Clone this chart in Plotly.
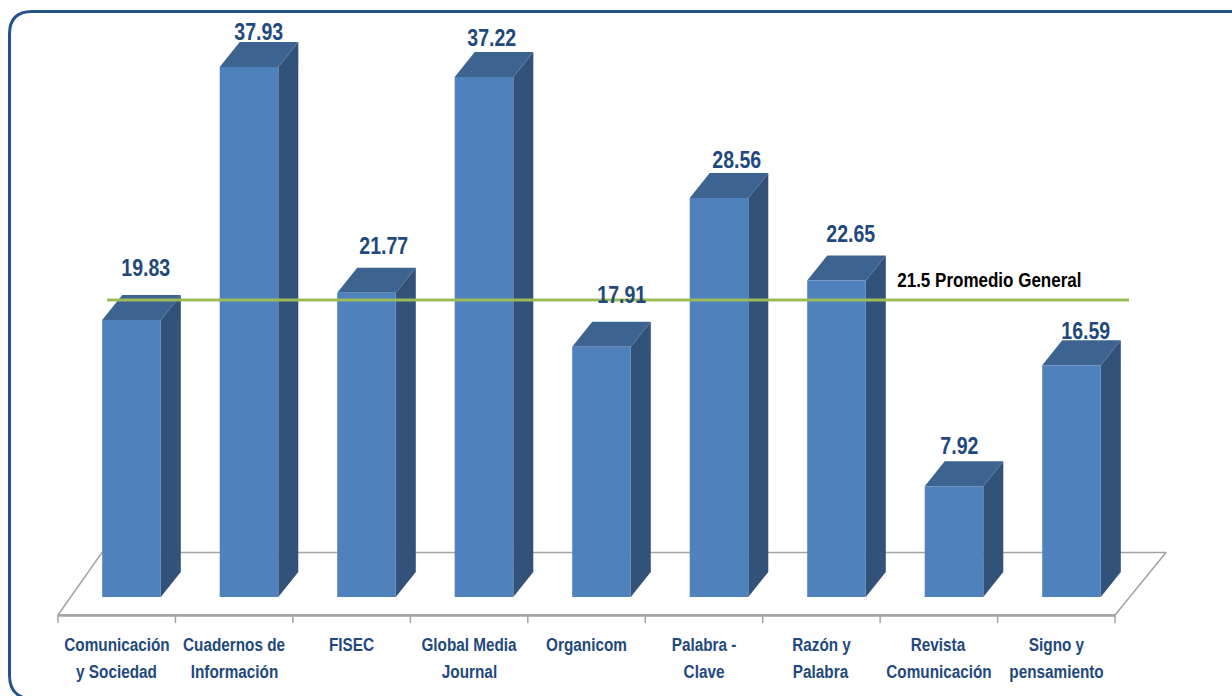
import plotly.graph_objects as go

categorias_l1 = ["Comunicación", "Cuadernos de", "FISEC", "Global Media", "Organicom",
                 "Palabra -", "Razón y", "Revista", "Signo y"]
categorias_l2 = ["y Sociedad", "Información", "", "Journal", "", "Clave", "Palabra",
                 "Comunicación", "pensamiento"]
valores = [19.83, 37.93, 21.77, 37.22, 17.91, 28.56, 22.65, 7.92, 16.59]
etiquetas = ["19.83", "37.93", "21.77", "37.22", "17.91", "28.56", "22.65", "7.92", "16.59"]
promedio_texto = "21.5 Promedio General"
promedio_linea = 21.26

# scale calibration (style / layout, not data)
W, H = 1232, 696
PX_X = 117.5
PX_Y = 13.97
X0 = 131.5
Y0 = 597
HALF = 29.3 / PX_X
DX = 20 / PX_X
DY = 25 / PX_Y
label_dx = [14.5, 10, 17.5, 8, 20.5, 17.5, 14.5, 5, 14.5]
label_dy = [52, 35, 47, 39, 52, 38, 47, 40, 34]

FRONT = "#4F81BD"
TOP = "#3D6491"
SIDE = "#335279"
TEXT = "#1F497D"
GREY = "#A3A3A3"
FONT = "Liberation Sans, Arial, sans-serif"

def xd(px):
    return (px - X0) / PX_X

def yd(px):
    return (Y0 - px) / PX_Y

fig = go.Figure()

# floor of the 3-D chart
fig.add_trace(go.Scatter(
    x=[xd(58), xd(102), xd(1166), xd(1115), xd(58)],
    y=[yd(615), yd(552.5), yd(552.5), yd(615), yd(615)],
    mode="lines", line=dict(color=GREY, width=1.5), hoverinfo="skip", showlegend=False))
fig.add_trace(go.Scatter(
    x=[xd(58), xd(1115)], y=[yd(615.5), yd(615.5)],
    mode="lines", line=dict(color=GREY, width=2.5), hoverinfo="skip", showlegend=False))
for k in range(10):
    xt = xd(58 + k * 117.45)
    fig.add_trace(go.Scatter(
        x=[xt, xt], y=[yd(615), yd(623)],
        mode="lines", line=dict(color=GREY, width=1.5), hoverinfo="skip", showlegend=False))

# bars: side, top, front faces computed from the values
for i, v in enumerate(valores):
    l, r = i - HALF, i + HALF
    fig.add_trace(go.Scatter(
        x=[r, r + DX, r + DX, r, r], y=[0, DY, v + DY, v, 0],
        mode="lines", fill="toself", fillcolor=SIDE, line=dict(width=0, color=SIDE),
        hoverinfo="skip", showlegend=False))
    fig.add_trace(go.Scatter(
        x=[l, l + DX, r + DX, r, l], y=[v, v + DY, v + DY, v, v],
        mode="lines", fill="toself", fillcolor=TOP, line=dict(width=0, color=TOP),
        hoverinfo="skip", showlegend=False))
    fig.add_trace(go.Scatter(
        x=[l, r, r, l, l], y=[0, 0, v, v, 0],
        mode="lines", fill="toself", fillcolor=FRONT, line=dict(width=0, color=FRONT),
        hoverinfo="skip", showlegend=False))

# average line
fig.add_trace(go.Scatter(
    x=[xd(107), xd(1129)], y=[promedio_linea, promedio_linea],
    mode="lines", line=dict(color="#9BBB59", width=3), hoverinfo="skip", showlegend=False))

ann = []
for i, v in enumerate(valores):
    ann.append(dict(x=i, y=v, text=etiquetas[i], xshift=label_dx[i], yshift=label_dy[i],
                    showarrow=False, xanchor="center", yanchor="middle",
                    font=dict(family=FONT, size=23, color=TEXT, weight="bold")))
    xc = xd(116.7 + i * 117.45)
    ann.append(dict(x=xc, y=yd(645), text=categorias_l1[i], showarrow=False,
                    xanchor="center", yanchor="middle",
                    font=dict(family=FONT, size=18, color=TEXT, weight="bold")))
    if categorias_l2[i]:
        ann.append(dict(x=xc, y=yd(672), text=categorias_l2[i], showarrow=False,
                        xanchor="center", yanchor="middle",
                        font=dict(family=FONT, size=18, color=TEXT, weight="bold")))
ann.append(dict(x=xd(989.5), y=yd(280), text=promedio_texto, showarrow=False,
                xanchor="center", yanchor="middle",
                font=dict(family=FONT, size=20, color="#000000", weight="bold")))

# rounded frame that runs off the right and bottom edges
def fx(p):
    return p / W

def fy(p):
    return 1 - p / H

frame = (f"M {fx(1240)} {fy(11.5)} L {fx(32)} {fy(11.5)} "
         f"Q {fx(9.5)} {fy(11.5)} {fx(9.5)} {fy(34)} "
         f"L {fx(9.5)} {fy(675)} Q {fx(9.5)} {fy(692)} {fx(22)} {fy(697)}")

fig.update_layout(
    width=W, height=H,
    margin=dict(l=0, r=0, t=0, b=0),
    paper_bgcolor="white", plot_bgcolor="white",
    showlegend=False,
    xaxis=dict(range=[xd(0), xd(W)], visible=False, fixedrange=True),
    yaxis=dict(range=[yd(H), yd(0)], visible=False, fixedrange=True),
    annotations=ann,
    shapes=[dict(type="path", path=frame, xref="paper", yref="paper",
                 line=dict(color="#25528A", width=3), layer="below")],
)

# the reference face is a condensed one: squeeze the real text horizontally
squeeze = """
document.body.style.margin='0';
document.documentElement.style.overflow='hidden';
document.querySelectorAll('.annotation-text').forEach(function(t){
  var n = t.getComputedTextLength();
  t.setAttribute('textLength', (n * 0.85).toFixed(1));
  t.setAttribute('lengthAdjust', 'spacingAndGlyphs');
});
"""
fig.write_html("out.html", config={"displayModeBar": False}, post_script=squeeze)
